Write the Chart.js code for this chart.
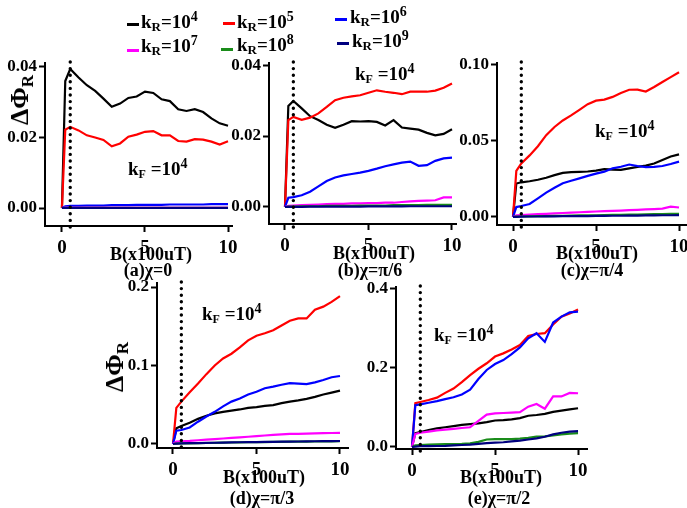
<!DOCTYPE html>
<html><head><meta charset="utf-8">
<script src="https://cdn.jsdelivr.net/npm/chart.js@4.4.1/dist/chart.umd.min.js"></script>
<style>
html,body{margin:0;padding:0;background:#fff;overflow:hidden;width:687px;height:508px}
.t{position:absolute;white-space:nowrap;font-family:'Liberation Serif','Times New Roman',serif;font-weight:bold;color:#000;line-height:1}
canvas{position:absolute}
sub,sup{line-height:0}
.lg{position:absolute;height:3px}
</style></head><body>
<script>
// ---- data ----
const B = [0,0.2,0.5,1,1.5,2,2.5,3,3.5,4,4.5,5,5.5,6,6.5,7,7.5,8,8.5,9,9.5,10];
const thresholdB = 0.5;
const seriesNames = ['10','10','10','10','10','10'];
const seriesExp = ['4','5','6','7','8','9'];
const seriesColors = ['#000000','#ff0000','#0000ff','#ff00ff','#1a8c1a','#00007f'];

// (a) chi = 0
const a4 = [0,0.036,0.0394,0.037,0.0348,0.0332,0.031,0.0287,0.0296,0.0312,0.0316,0.033,0.0326,0.0308,0.0303,0.028,0.0275,0.028,0.0272,0.0254,0.024,0.0233];
const a5 = [0,0.0222,0.023,0.022,0.0206,0.02,0.0193,0.0175,0.0183,0.0202,0.0208,0.0216,0.0218,0.0206,0.0206,0.019,0.0188,0.0195,0.0194,0.0188,0.018,0.0189];
const a6 = [0,0.0005,0.0006,0.0006,0.0007,0.0007,0.0007,0.0008,0.0008,0.0008,0.0009,0.0009,0.0009,0.0009,0.001,0.001,0.001,0.001,0.001,0.0011,0.0011,0.0011];
const a7 = [0,0.0001,0.0001,0.0001,0.0001,0.0001,0.0001,0.0001,0.0001,0.0001,0.0001,0.0001,0.0001,0.0001,0.0001,0.0001,0.0001,0.0001,0.0001,0.0001,0.0001,0.0001];
const a8 = [0,0.00005,0.00005,0.00005,0.00005,0.00005,0.00005,0.00005,0.00005,0.00005,0.00005,0.00005,0.00005,0.00005,0.00005,0.00005,0.00005,0.00005,0.00005,0.00005,0.00005,0.00005];
const a9 = [0,0,0,0,0,0,0,0,0,0,0,0,0,0,0,0,0,0,0,0,0,0];

// (b) chi = pi/6
const b4 = [0,0.0285,0.0299,0.0278,0.0256,0.0245,0.0232,0.0223,0.0232,0.0242,0.0241,0.0242,0.024,0.023,0.0245,0.0224,0.0221,0.0218,0.0209,0.0202,0.0206,0.0219];
const b5 = [0,0.0245,0.0254,0.0246,0.0252,0.0264,0.0282,0.0301,0.0308,0.0312,0.0315,0.0322,0.0329,0.0325,0.0322,0.0318,0.0325,0.0325,0.0325,0.0328,0.0336,0.0348];
const b6 = [0,0.0026,0.0028,0.0033,0.0043,0.0058,0.0073,0.0083,0.0089,0.0093,0.0097,0.0102,0.0108,0.0115,0.012,0.0125,0.0128,0.0116,0.0118,0.013,0.0137,0.0139];
const b7 = [0,0.0003,0.0004,0.0005,0.0006,0.0007,0.0008,0.0009,0.0009,0.001,0.001,0.0011,0.0011,0.0012,0.0012,0.0014,0.0016,0.0017,0.0018,0.0019,0.0027,0.0027];
const b8 = [0,0.0001,0.0001,0.0002,0.0002,0.0002,0.0003,0.0003,0.0003,0.0003,0.0004,0.0004,0.0004,0.0004,0.0005,0.0005,0.0005,0.0005,0.0006,0.0006,0.0006,0.0006];
const b9 = [0,0.00005,0.00005,0.00005,0.0001,0.0001,0.0001,0.0001,0.0001,0.0001,0.0001,0.00015,0.00015,0.00015,0.00015,0.00015,0.0002,0.0002,0.0002,0.0002,0.0002,0.0002];

// (c) chi = pi/4
const c4 = [0,0.022,0.0228,0.0235,0.0245,0.0258,0.0275,0.029,0.0295,0.0297,0.0299,0.0305,0.0315,0.0312,0.031,0.032,0.033,0.0338,0.0352,0.0375,0.0398,0.0412];
const c5 = [0,0.0303,0.0352,0.0405,0.0465,0.0538,0.0592,0.0635,0.0668,0.0705,0.0742,0.0765,0.0772,0.079,0.0815,0.0837,0.0838,0.0825,0.0855,0.0888,0.092,0.0952];
const c6 = [0,0.0065,0.0072,0.0085,0.0122,0.016,0.0192,0.0222,0.0238,0.0254,0.027,0.0285,0.0298,0.032,0.033,0.0345,0.0335,0.0328,0.033,0.0335,0.0348,0.0364];
const c7 = [0,0.001,0.0012,0.0015,0.0018,0.002,0.0023,0.0026,0.0029,0.0031,0.0034,0.0036,0.0038,0.004,0.0042,0.0045,0.0047,0.005,0.0052,0.0055,0.0068,0.0062];
const c8 = [0,0.0002,0.0003,0.0004,0.0005,0.0006,0.0007,0.0008,0.0009,0.001,0.0011,0.0011,0.0012,0.0013,0.0014,0.0015,0.0016,0.0017,0.0018,0.0019,0.002,0.002];
const c9 = [0,0.0001,0.0002,0.0003,0.0003,0.0004,0.0004,0.0005,0.0005,0.0006,0.0006,0.0007,0.0007,0.0008,0.0008,0.0009,0.0009,0.001,0.001,0.0011,0.0011,0.0012];

// (d) chi = pi/3
const d4 = [0,0.02,0.023,0.027,0.032,0.036,0.039,0.041,0.0425,0.044,0.046,0.047,0.0485,0.0495,0.052,0.054,0.0555,0.0575,0.06,0.063,0.0655,0.068];
const d5 = [0,0.046,0.054,0.066,0.077,0.089,0.1,0.109,0.115,0.123,0.132,0.138,0.141,0.145,0.151,0.157,0.16,0.16,0.171,0.175,0.181,0.1885];
const d6 = [0,0.017,0.0178,0.021,0.0284,0.035,0.041,0.048,0.054,0.058,0.063,0.0665,0.071,0.073,0.0755,0.0775,0.077,0.0762,0.0785,0.0815,0.085,0.0866];
const d7 = [0,0.003,0.0035,0.004,0.0048,0.0055,0.0062,0.007,0.0078,0.0085,0.0092,0.01,0.0108,0.0115,0.0122,0.0128,0.013,0.0132,0.0135,0.0138,0.014,0.0142];
const d8 = [0,0.0005,0.0007,0.0009,0.0011,0.0013,0.0015,0.0017,0.0019,0.002,0.0022,0.0023,0.0025,0.0026,0.0027,0.0029,0.003,0.0031,0.0032,0.0033,0.0034,0.0035];
const d9 = [0,0.0006,0.0008,0.001,0.0012,0.0014,0.0016,0.0018,0.002,0.0022,0.0023,0.0025,0.0026,0.0028,0.0029,0.0031,0.0032,0.0033,0.0035,0.0036,0.0037,0.0038];

// (e) chi = pi/2
const e4 = [0,0.035,0.038,0.043,0.047,0.05,0.053,0.056,0.058,0.06,0.063,0.067,0.068,0.07,0.073,0.079,0.081,0.084,0.089,0.092,0.095,0.098];
const e5 = [0,0.111,0.114,0.119,0.125,0.137,0.148,0.164,0.182,0.198,0.212,0.229,0.237,0.247,0.258,0.281,0.286,0.288,0.31,0.33,0.338,0.348];
const e6 = [0,0.106,0.108,0.112,0.116,0.121,0.126,0.133,0.145,0.172,0.195,0.21,0.22,0.235,0.252,0.275,0.288,0.266,0.315,0.33,0.341,0.3425];
const e7 = [0,0.033,0.036,0.039,0.042,0.044,0.046,0.048,0.05,0.066,0.082,0.085,0.086,0.087,0.088,0.102,0.109,0.097,0.128,0.128,0.137,0.136];
const e8 = [0,0.004,0.005,0.006,0.0065,0.007,0.0075,0.008,0.009,0.013,0.019,0.02,0.02,0.02,0.021,0.023,0.026,0.027,0.029,0.032,0.034,0.035];
const e9 = [0,0.001,0.002,0.002,0.0025,0.003,0.004,0.005,0.006,0.008,0.01,0.011,0.012,0.014,0.016,0.019,0.022,0.026,0.032,0.036,0.039,0.04];

// ticks
const xTicks = [0,5,10];
const xTickLabels = ['0','5','10'];
const yTicksA = [0,0.02,0.04];   const yLabelsA = ['0.00','0.02','0.04'];
const yTicksB = [0,0.02,0.04];   const yLabelsB = ['0.00','0.02','0.04'];
const yTicksC = [0,0.05,0.10];   const yLabelsC = ['0.00','0.05','0.10'];
const yTicksD = [0,0.1,0.2];     const yLabelsD = ['0.0','0.1','0.2'];
const yTicksE = [0,0.2,0.4];     const yLabelsE = ['0.0','0.2','0.4'];

// texts
const captions = ['(a)χ=0','(b)χ=π/6','(c)χ=π/4','(d)χ=π/3','(e)χ=π/2'];
const xTitle = 'B(x100uT)';
const yTitle = 'ΔΦ';
const kfText = '=10';
const kfExp = '4';

// ---- layout ----
const FONT = "'Liberation Serif','Times New Roman',serif";
const panels = [
  {area:[45,63,232,226], x:[-1.02,10.24], y:[-0.0051,0.0411], yt:yTicksA, yl:yLabelsA, s:[a4,a5,a6,a7,a8,a9], cap:captions[0], tx:151, cx:148, ty:254, cy:270, kf:[128,175], yTitle:[20,100]},
  {area:[269,63,456,224], x:[-0.958,10.24], y:[-0.0048,0.0406], yt:yTicksB, yl:yLabelsB, s:[b4,b5,b6,b7,b8,b9], cap:captions[1], tx:374, cx:370, ty:253, cy:270, kf:[355,80]},
  {area:[497,63,686,225], x:[-0.964,10.42], y:[-0.0053,0.1013], yt:yTicksC, yl:yLabelsC, s:[c4,c5,c6,c7,c8,c9], cap:captions[2], tx:597, cx:592, ty:253, cy:270, kf:[595,137]},
  {area:[157,283,348,448], x:[-0.958,10.48], y:[-0.0051,0.2051], yt:yTicksD, yl:yLabelsD, s:[d4,d5,d6,d7,d8,d9], cap:captions[3], tx:264, cx:262, ty:477, cy:498, kf:[202,320], yTitle:[115,367]},
  {area:[396,287,587,449], x:[-0.964,10.54], y:[-0.0051,0.405], yt:yTicksE, yl:yLabelsE, s:[e4,e5,e6,e7,e8,e9], cap:captions[4], tx:501, cx:499, ty:477, cy:498, kf:[434,341]}
];
const drawOrder = [5,4,3,2,1,0];

const dotPlugin = {
  id:'dots',
  afterDatasetsDraw(chart){
    const ctx = chart.ctx, a = chart.chartArea;
    const px = chart.scales.x.getPixelForValue(thresholdB);
    ctx.save();
    ctx.strokeStyle = '#000'; ctx.lineWidth = 3.4; ctx.lineCap = 'round';
    ctx.setLineDash([0,6.6]);
    ctx.beginPath(); ctx.moveTo(px, a.top - 1); ctx.lineTo(px, a.bottom + 3); ctx.stroke();
    ctx.restore();
  }
};

function addText(html, left, top, size, center){
  const d = document.createElement('div');
  d.className = 't';
  d.style.fontSize = size + 'px';
  d.style.left = left + 'px'; d.style.top = top + 'px';
  if (center) d.style.transform = 'translate(-50%,-50%)';
  d.innerHTML = html;
  document.body.appendChild(d);
  return d;
}

function makePanel(p){
  const yw = 50, xh = 34, pt = 14, pr = 22;
  const [L,T,R,Bt] = p.area;
  const W = yw + (R - L) + pr, H = pt + (Bt - T) + xh;
  const c = document.createElement('canvas');
  c.width = W; c.height = H;
  c.style.left = (L - yw) + 'px'; c.style.top = (T - pt) + 'px';
  c.style.width = W + 'px'; c.style.height = H + 'px';
  document.body.appendChild(c);
  const tickFontY = {family:FONT, size:17, weight:'bold'};
  const tickFontX = {family:FONT, size:19, weight:'bold'};
  new Chart(c, {
    type:'line',
    data:{datasets: drawOrder.map(i => ({
      data: B.map((b,j) => ({x:b, y:p.s[i][j]})),
      borderColor: seriesColors[i], borderWidth: 2.2, pointRadius: 0, tension: 0, fill: false
    }))},
    options:{
      responsive:false, animation:false, devicePixelRatio:1,
      layout:{padding:{top:pt, right:pr, left:0, bottom:0}},
      plugins:{legend:{display:false}, tooltip:{enabled:false}},
      scales:{
        x:{type:'linear', min:p.x[0], max:p.x[1],
           afterFit:s => { s.height = xh; },
           afterBuildTicks:s => { s.ticks = xTicks.map(v => ({value:v})); },
           ticks:{callback:(v,i) => xTickLabels[i], font:tickFontX, color:'#000', padding:5, autoSkip:false, maxRotation:0},
           grid:{drawOnChartArea:false, tickLength:6, tickWidth:2, tickColor:'#000'},
           border:{color:'#000', width:2}},
        y:{type:'linear', min:p.y[0], max:p.y[1],
           afterFit:s => { s.width = yw; },
           afterBuildTicks:s => { s.ticks = p.yt.map(v => ({value:v})); },
           ticks:{callback:(v,i) => p.yl[i], font:tickFontY, color:'#000', padding:2, autoSkip:false},
           grid:{drawOnChartArea:false, tickLength:6, tickWidth:2, tickColor:'#000'},
           border:{color:'#000', width:2}}
      }
    },
    plugins:[dotPlugin]
  });
  addText(xTitle, p.tx, p.ty, 18, true);
  addText(p.cap, p.cx, p.cy, 18, true);
  addText('k<sub style="font-size:12px;vertical-align:-3px">F</sub> ' + kfText + '<sup style="font-size:14px;vertical-align:7px">' + kfExp + '</sup>', p.kf[0], p.kf[1] - 16, 19, false);
  if (p.yTitle){
    const d = addText(yTitle + '<sub style="font-size:17px;vertical-align:-5px">R</sub>', p.yTitle[0], p.yTitle[1], 26, false);
    d.style.transform = 'translate(-50%,-50%) rotate(-90deg)';
  }
}
panels.forEach(makePanel);

// legend
const legendPos = [[127,24,141,28],[223,23,237,28],[335,19,350,23],[127,50,141,52],[221,49,237,51],[337,43,352,47]];
legendPos.forEach((q,i) => {
  const l = document.createElement('div');
  l.className = 'lg';
  l.style.left = q[0] + 'px'; l.style.top = (q[1]-1) + 'px'; l.style.width = '12px';
  l.style.background = seriesColors[i];
  document.body.appendChild(l);
  addText('k<sub style="font-size:13px;vertical-align:-3px">R</sub>=' + seriesNames[i] + '<sup style="font-size:14px;vertical-align:7px">' + seriesExp[i] + '</sup>', q[2], q[3] - 16, 19, false);
});
</script>
</body></html>
